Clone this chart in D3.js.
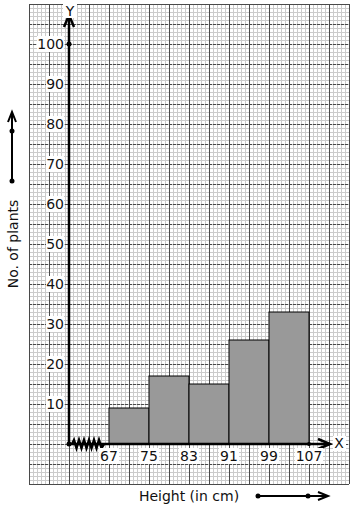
<!DOCTYPE html>
<html>
<head>
<meta charset="utf-8">
<script src="https://cdn.jsdelivr.net/npm/d3@7"></script>
<style>
  body { margin: 0; background: #fff; }
  svg { display: block; font-family: "DejaVu Sans", sans-serif; }
</style>
</head>
<body>
<svg id="chart" width="354" height="510"></svg>
<script>
// class boundaries and frequencies
const binEdges = [67, 75, 83, 91, 99, 107];
const counts = [9, 17, 15, 26, 33];
const yTicks = [10, 20, 30, 40, 50, 60, 70, 80, 90, 100];

const svg = d3.select("#chart");

// scales: 8 cm = 40px on x, 10 plants = 40px on y
const x = d3.scaleLinear().domain([67, 107]).range([109, 309]);
const y = d3.scaleLinear().domain([0, 100]).range([444, 44]);
const ox = 69, oy = 444;
const fs = 14;

// ---- graph paper ----
const gx0 = 29, gx1 = 349, gy0 = 4, gy1 = 484;
const paper = svg.append("g").attr("shape-rendering", "crispEdges");
const minorX = d3.range(gx0, gx1 + 1, 4), minorY = d3.range(gy0, gy1 + 1, 4);
paper.selectAll(".mx").data(minorX).join("line")
  .attr("x1", d => d + 0.5).attr("x2", d => d + 0.5)
  .attr("y1", gy0).attr("y2", gy1)
  .attr("stroke", "#cbcbcb").attr("stroke-width", 1);
paper.selectAll(".my").data(minorY).join("line")
  .attr("y1", d => d + 0.5).attr("y2", d => d + 0.5)
  .attr("x1", gx0).attr("x2", gx1)
  .attr("stroke", "#cbcbcb").attr("stroke-width", 1);
paper.selectAll(".Mx").data(d3.range(gx0, gx1 + 1, 20)).join("line")
  .attr("x1", d => d + 0.5).attr("x2", d => d + 0.5)
  .attr("y1", gy0).attr("y2", gy1)
  .attr("stroke", "#4a4a4a").attr("stroke-width", 1);
paper.selectAll(".My").data(d3.range(gy0, gy1 + 1, 20)).join("line")
  .attr("y1", d => d + 0.5).attr("y2", d => d + 0.5)
  .attr("x1", gx0).attr("x2", gx1)
  .attr("stroke", "#4a4a4a").attr("stroke-width", 1)
  .attr("stroke-dasharray", d => (d === gy0 || d === gy1) ? null : "3,1");

// ---- bars ----
svg.append("g").selectAll("rect").data(counts).join("rect")
  .attr("x", (d, i) => x(binEdges[i]))
  .attr("y", d => y(d))
  .attr("width", (d, i) => x(binEdges[i + 1]) - x(binEdges[i]))
  .attr("height", d => y(0) - y(d))
  .attr("fill", "#999")
  .attr("stroke", "#000")
  .attr("stroke-width", 1);

// ---- axes ----
const axes = svg.append("g").attr("stroke", "#000").attr("fill", "none");
axes.append("line").attr("x1", ox).attr("y1", oy).attr("x2", ox).attr("y2", 15)
  .attr("stroke-width", 2.5);
axes.append("path").attr("d", `M${ox - 5},${27} L${ox},${15} L${ox + 5},${27}`)
  .attr("stroke-width", 2.5);
axes.append("line").attr("x1", ox).attr("y1", oy).attr("x2", 330).attr("y2", oy)
  .attr("stroke-width", 2.5);
axes.append("path").attr("d", `M${318},${oy - 5} L${330},${oy} L${318},${oy + 5}`)
  .attr("stroke-width", 2.5);
// kink on x-axis between 0 and 67
let zig = `M${ox + 3},${oy}`;
for (let i = 0; i < 6; i++) {
  const xs = ox + 5 + i * 5;
  zig += ` L${xs},${oy - 4} L${xs + 2.5},${oy + 4}`;
}
zig += ` L${ox + 35},${oy}`;
axes.append("path").attr("d", zig).attr("stroke-width", 2.5);

svg.append("circle").attr("cx", ox).attr("cy", oy).attr("r", 2.5).attr("fill", "#000");
svg.append("circle").attr("cx", ox).attr("cy", y(100)).attr("r", 2.5).attr("fill", "#000");
svg.append("circle").attr("cx", x(107)).attr("cy", oy).attr("r", 2).attr("fill", "#000");

// ---- tick labels ----
const yl = svg.append("g").selectAll("g").data(yTicks).join("g")
  .attr("transform", d => `translate(${ox - 5},${y(d)})`);
yl.append("rect").attr("x", d => d === 100 ? -27 : -18).attr("y", -8)
  .attr("width", d => d === 100 ? 27 : 18).attr("height", 16).attr("fill", "#fff");
yl.append("text").attr("text-anchor", "end").attr("dy", "0.35em")
  .attr("font-size", fs).attr("fill", "#111").text(d => d);

const xl = svg.append("g").selectAll("g").data(binEdges).join("g")
  .attr("transform", d => `translate(${x(d)},${oy + 12})`);
xl.append("rect").attr("x", d => d >= 100 ? -14 : -10).attr("y", -8)
  .attr("width", d => d >= 100 ? 28 : 20).attr("height", 16).attr("fill", "#fff");
xl.append("text").attr("text-anchor", "middle").attr("dy", "0.35em")
  .attr("font-size", fs).attr("fill", "#111").text(d => d);

// axis letters
svg.append("rect").attr("x", 63).attr("y", 4).attr("width", 14).attr("height", 14).attr("fill", "#fff");
svg.append("text").attr("x", 70).attr("y", 11).attr("dy", "0.35em").attr("text-anchor", "middle")
  .attr("font-size", fs).attr("fill", "#111").text("Y");
svg.append("rect").attr("x", 333).attr("y", 436).attr("width", 13).attr("height", 15).attr("fill", "#fff");
svg.append("text").attr("x", 339).attr("y", 443).attr("dy", "0.35em").attr("text-anchor", "middle")
  .attr("font-size", fs).attr("fill", "#111").text("X");

// ---- axis titles with scale arrows ----
svg.append("text").attr("transform", "translate(13,244) rotate(-90)")
  .attr("text-anchor", "middle").attr("dy", "0.35em")
  .attr("font-size", fs).attr("fill", "#111").text("No. of plants");
const ya = svg.append("g").attr("stroke", "#000").attr("fill", "none").attr("stroke-width", 2);
ya.append("line").attr("x1", 12).attr("y1", 181).attr("x2", 12).attr("y2", 113);
ya.append("path").attr("d", "M8,122 L12,112 L16,122");
svg.append("circle").attr("cx", 12).attr("cy", 181).attr("r", 2.5).attr("fill", "#000");
svg.append("circle").attr("cx", 12).attr("cy", 131).attr("r", 2.5).attr("fill", "#000");

svg.append("text").attr("x", 189).attr("y", 496).attr("dy", "0.35em")
  .attr("text-anchor", "middle").attr("font-size", fs).attr("fill", "#111").text("Height (in cm)");
const xa = svg.append("g").attr("stroke", "#000").attr("fill", "none").attr("stroke-width", 2);
xa.append("line").attr("x1", 258).attr("y1", 496).attr("x2", 327).attr("y2", 496);
xa.append("path").attr("d", "M318,492 L328,496 L318,500");
svg.append("circle").attr("cx", 258).attr("cy", 496).attr("r", 2.5).attr("fill", "#000");
svg.append("circle").attr("cx", 308).attr("cy", 496).attr("r", 2.5).attr("fill", "#000");
</script>
</body>
</html>
